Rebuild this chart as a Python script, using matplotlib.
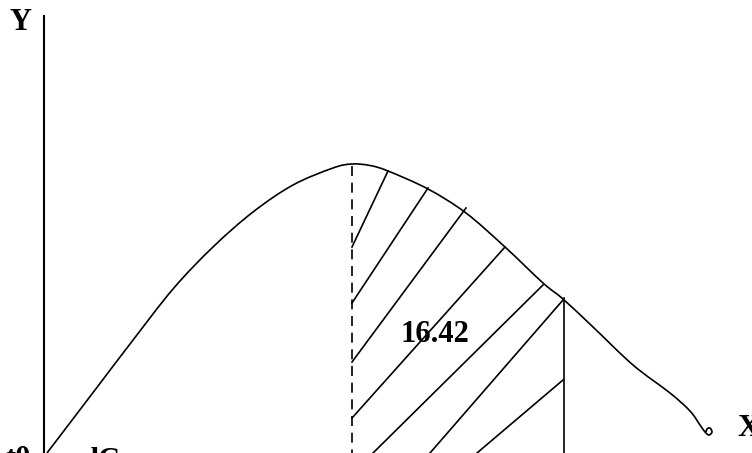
import matplotlib
matplotlib.use("Agg")
import matplotlib.pyplot as plt
from matplotlib.path import Path
from matplotlib.patches import PathPatch

# sketch coordinates: x grows right, y grows downward (0..752 x 0..453)
curve_x = [47, 95, 130, 173, 213, 253, 293, 333, 352, 370, 388, 428, 466, 505,
           543, 563, 593, 633, 670, 690, 700, 705, 709, 712, 710, 707, 706]
curve_y = [453, 390, 344, 289, 247, 212, 185, 168, 164, 165.5, 171, 189, 213, 247,
           283, 299, 327, 365, 393, 411, 425, 432, 435, 432, 428, 429, 432]

# hatch strokes inside the shaded band: (x0, y0, x1, y1)
hatch_x0 = [352, 352, 352, 352, 373, 430, 477]
hatch_y0 = [247, 303, 362, 418, 453, 453, 453]
hatch_x1 = [388, 428, 466, 505, 543, 563, 563]
hatch_y1 = [171, 188, 208, 247, 285, 300, 380]

peak_x, peak_y = 352, 164
bound_x, bound_y = 564, 298
area_label = "16.42"

serif = ["Liberation Serif", "DejaVu Serif"]


def smooth_path(xs, ys, tension=6.0):
    # Catmull-Rom through the points, written as cubic Bezier segments
    pts = list(zip(xs, ys))
    verts = [pts[0]]
    codes = [Path.MOVETO]
    for i in range(len(pts) - 1):
        p0 = pts[i - 1] if i > 0 else pts[i]
        p1, p2 = pts[i], pts[i + 1]
        p3 = pts[i + 2] if i + 2 < len(pts) else pts[i + 1]
        c1 = (p1[0] + (p2[0] - p0[0]) / tension, p1[1] + (p2[1] - p0[1]) / tension)
        c2 = (p2[0] - (p3[0] - p1[0]) / tension, p2[1] - (p3[1] - p1[1]) / tension)
        verts += [c1, c2, p2]
        codes += [Path.CURVE4] * 3
    return Path(verts, codes)


fig = plt.figure(figsize=(7.52, 4.53), dpi=100)
ax = fig.add_axes([0, 0, 1, 1])
ax.set_xlim(0, 752)
ax.set_ylim(453, 0)
ax.axis("off")

# vertical axis
ax.plot([44, 44], [15, 453], color="black", lw=1.5, solid_capstyle="butt")

ax.add_patch(PathPatch(smooth_path(curve_x, curve_y), facecolor="none",
                       edgecolor="black", lw=1.2))

# mean line (dashed) and right boundary
ax.plot([peak_x, peak_x], [peak_y + 2, 453], color="black", lw=1.2,
        dashes=(6, 4))
ax.plot([bound_x, bound_x], [bound_y, 453], color="black", lw=1.2)

for x0, y0, x1, y1 in zip(hatch_x0, hatch_y0, hatch_x1, hatch_y1):
    ax.plot([x0, x1], [y0, y1], color="black", lw=1.2)

ax.text(435, 334, area_label, family=serif, fontweight="bold", fontsize=22,
        ha="center", va="center")
ax.text(21, 22, "Y", family=serif, fontweight="bold", fontsize=22,
        ha="center", va="center")
ax.text(737, 428, "X", family=serif, fontweight="bold", fontsize=22,
        ha="left", va="center")
ax.text(31, 445, "t0", family=serif, fontweight="bold", fontsize=22,
        ha="right", va="top")
ax.text(82, 447, "dC", family=serif, fontweight="bold", fontsize=22,
        ha="left", va="top")

fig.savefig("out.png", dpi=100)
